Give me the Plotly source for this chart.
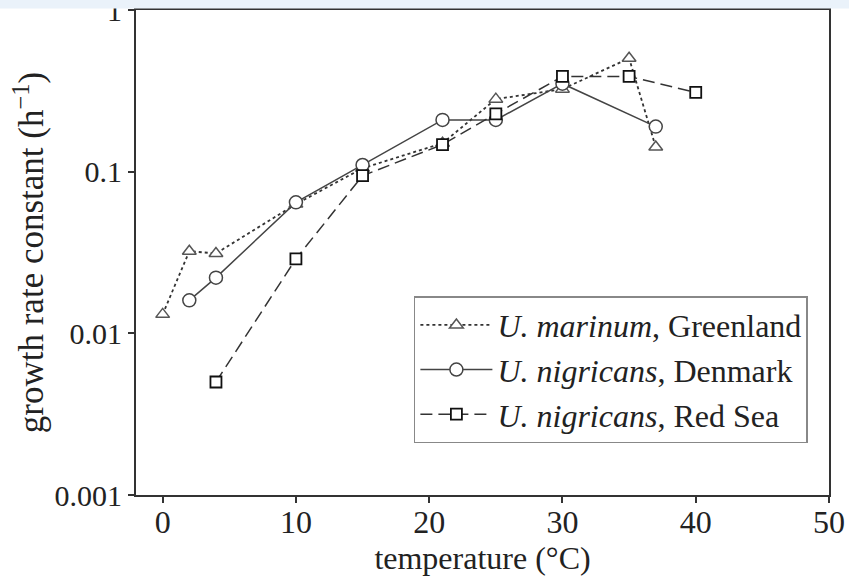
import plotly.graph_objects as go

# Data
greenland_x = [0, 2, 4, 10, 15, 21, 25, 30, 35, 37]
greenland_y = [0.0131, 0.0322, 0.0312, 0.063, 0.105, 0.15, 0.281, 0.324, 0.503, 0.142]

denmark_x = [2, 4, 10, 15, 21, 25, 30, 37]
denmark_y = [0.016, 0.0221, 0.0646, 0.110, 0.209, 0.209, 0.35, 0.19]

redsea_x = [4, 10, 15, 21, 25, 30, 35, 40]
redsea_y = [0.005, 0.0289, 0.0944, 0.147, 0.228, 0.388, 0.388, 0.309]

x_ticks = [0, 10, 20, 30, 40, 50]
y_tickvals = [0.001, 0.01, 0.1, 1]
y_ticktext = ["0.001", "0.01", "0.1", "1"]

FONT = "Liberation Serif, Times New Roman, serif"
INK = "#222222"

fig = go.Figure()

fig.add_trace(go.Scatter(
    x=greenland_x, y=greenland_y, mode="lines+markers",
    name="<i>U. marinum</i>, Greenland",
    line=dict(color="#333333", width=1.8, dash="dot"),
    marker=dict(symbol="triangle-up", size=12, color="white",
                line=dict(color="#555555", width=1.5)),
))
fig.add_trace(go.Scatter(
    x=denmark_x, y=denmark_y, mode="lines+markers",
    name="<i>U. nigricans</i>, Denmark",
    line=dict(color="#444444", width=1.5, dash="solid"),
    marker=dict(symbol="circle", size=13, color="white",
                line=dict(color="#444444", width=1.5)),
))
fig.add_trace(go.Scatter(
    x=redsea_x, y=redsea_y, mode="lines+markers",
    name="<i>U. nigricans</i>, Red Sea",
    line=dict(color="#333333", width=1.5, dash="12px,6px"),
    marker=dict(symbol="square", size=11, color="white",
                line=dict(color="#111111", width=1.8)),
))

fig.update_layout(
    template="none",
    width=849, height=577,
    margin=dict(l=136, r=20, t=10, b=82, autoexpand=False),
    paper_bgcolor="white", plot_bgcolor="white",
    font=dict(family=FONT, size=32, color=INK),
    showlegend=True,
    legend=dict(
        x=0.401, y=0.410, xanchor="left", yanchor="top",
        bgcolor="white", bordercolor="#888888", borderwidth=1.5,
        font=dict(family=FONT, size=32, color=INK),
        itemwidth=72, tracegroupgap=0,
    ),
    xaxis=dict(
        range=[-2, 50], tickvals=x_ticks, ticks="outside", ticklen=6,
        tickwidth=1.5, tickcolor="#333333", automargin=True,
        ticklabelstandoff=-8,
        showline=True, linecolor="#333333", linewidth=2, mirror=True,
        showgrid=False, zeroline=False,
        tickfont=dict(family=FONT, size=32, color=INK),
        title=dict(text="temperature (°C)", standoff=4,
                   font=dict(family=FONT, size=32, color=INK)),
    ),
    yaxis=dict(
        type="log", range=[-3, 0], tickvals=y_tickvals, ticktext=y_ticktext,
        ticks="outside", ticklen=6, tickwidth=1.5, tickcolor="#333333",
        automargin=True, ticklabeloverflow="allow",
        showline=True, linecolor="#333333", linewidth=2, mirror=True,
        showgrid=False, zeroline=False,
        tickfont=dict(family=FONT, size=30, color=INK),
        title=dict(text="growth rate constant (h<sup>−1</sup>)", standoff=0,
                   font=dict(family=FONT, size=35, color=INK)),
    ),
    shapes=[dict(
        type="rect", xref="paper", yref="paper", layer="above",
        x0=-136 / 693, x1=1 + 20 / 693,
        y0=1 + 1.5 / 485, y1=1 + 12 / 485,
        fillcolor="#EAF2FA", line=dict(width=0),
    )],
)

fig.write_html("out.html")
